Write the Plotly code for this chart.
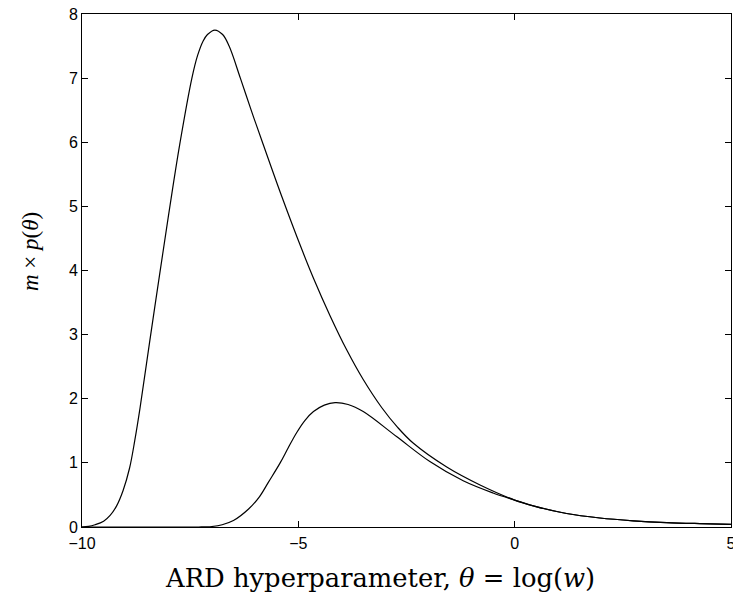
import plotly.graph_objects as go

# Wide distribution (tall curve)
x_wide = [-10.0, -9.85, -9.7, -9.5, -9.35, -9.2, -9.05, -8.9, -8.78, -8.66, -8.44, -8.21,
          -7.98, -7.74, -7.46, -7.33, -7.2, -7.1, -6.93, -6.75, -6.6, -6.34, -6.1, -5.84,
          -5.38, -4.92, -4.65, -4.27, -3.88, -3.5, -3.07, -2.7, -2.34, -1.57, -0.8, 0.0, 0.43,
          1.2, 1.97, 2.74, 3.51, 4.28, 5.0]
y_wide = [0.0, 0.01, 0.035, 0.09, 0.18, 0.33, 0.57, 0.92, 1.35, 1.85, 2.87, 3.92,
          4.95, 5.97, 7.0, 7.35, 7.58, 7.68, 7.75, 7.68, 7.5, 7.0, 6.52, 6.02,
          5.15, 4.33, 3.88, 3.3, 2.76, 2.3, 1.86, 1.55, 1.305, 0.935, 0.655, 0.42, 0.33,
          0.21, 0.14, 0.097, 0.069, 0.053, 0.042]

# Narrow distribution (small curve)
x_narrow = [-10.0, -8.0, -7.3, -7.0, -6.76, -6.5, -6.15, -5.9, -5.69, -5.42, -5.23,
            -5.04, -4.85, -4.65, -4.4, -4.15, -3.85, -3.5, -2.73, -1.96, -1.19, -0.5, 0.0, 0.43,
            1.2, 1.97, 2.74, 3.51, 4.28, 5.0]
y_narrow = [0.0, 0.0, 0.0, 0.008, 0.035, 0.1, 0.28, 0.47, 0.7, 1.0, 1.24,
            1.47, 1.66, 1.8, 1.9, 1.94, 1.91, 1.8, 1.41, 1.02, 0.72, 0.53, 0.42, 0.33,
            0.21, 0.14, 0.097, 0.069, 0.053, 0.042]

x_ticks = [-10, -5, 0, 5]
x_tick_text = ["\u221210", "\u22125", "0", "5"]
y_ticks = [0, 1, 2, 3, 4, 5, 6, 7, 8]

fig = go.Figure()
for xs, ys in [(x_wide, y_wide), (x_narrow, y_narrow)]:
    fig.add_trace(go.Scatter(x=xs, y=ys, mode="lines",
                             line=dict(color="black", width=1.2, shape="spline", smoothing=1.0),
                             showlegend=False, hoverinfo="skip"))

axis_common = dict(showline=True, linecolor="black", linewidth=1, mirror="ticks",
                   ticks="inside", ticklen=6, tickcolor="black", tickwidth=1,
                   showgrid=False, zeroline=False, ticklabeloverflow="allow", automargin=False,
                   tickfont=dict(family="Liberation Sans, Arial, sans-serif", size=16, color="black"))

fig.update_layout(
    width=733, height=603,
    margin=dict(l=82, r=2, t=14, b=76, autoexpand=False),
    paper_bgcolor="white", plot_bgcolor="white",
    xaxis=dict(range=[-10, 5], tickvals=x_ticks, ticktext=x_tick_text,
               ticklabelstandoff=2, **axis_common),
    yaxis=dict(range=[0, 8], tickvals=y_ticks, **axis_common),
    annotations=[
        dict(text="ARD hyperparameter, <i>\u03b8</i> = log(<i>w</i>)",
             xref="paper", yref="paper", x=0.459, y=-0.0994,
             xanchor="center", yanchor="middle", showarrow=False,
             font=dict(family="DejaVu Serif, serif", size=25.8, color="black")),
        dict(text="<i>m</i> \u00d7 <i>p</i>(<i>\u03b8</i>)",
             xref="paper", yref="paper", x=-0.08, y=0.536,
             xanchor="center", yanchor="middle", showarrow=False, textangle=-90,
             font=dict(family="Liberation Serif, serif", size=23, color="black")),
    ],
)

fig.write_html("out.html")
